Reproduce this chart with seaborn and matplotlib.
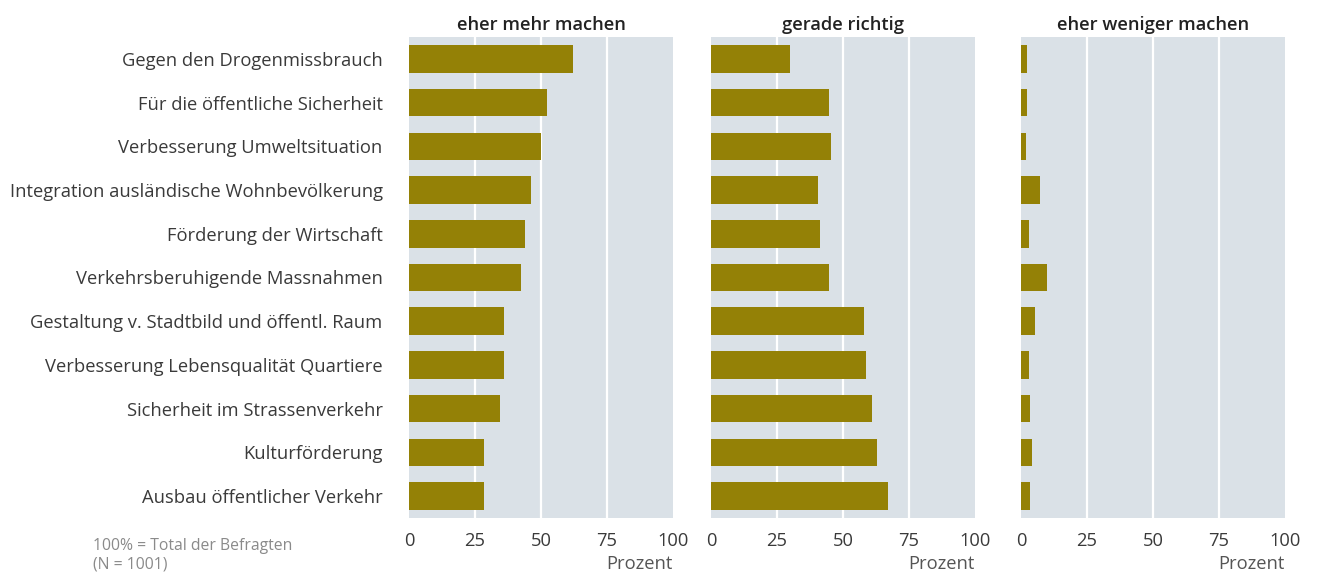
import pandas as pd
import numpy as np
import matplotlib.pyplot as plt
import seaborn as sns

# -------------------
# Data (Prozent der Befragten)
kategorien = [
    "Gegen den Drogenmissbrauch",
    "Für die öffentliche Sicherheit",
    "Verbesserung Umweltsituation",
    "Integration ausländische Wohnbevölkerung",
    "Förderung der Wirtschaft",
    "Verkehrsberuhigende Massnahmen",
    "Gestaltung v. Stadtbild und öffentl. Raum",
    "Verbesserung Lebensqualität Quartiere",
    "Sicherheit im Strassenverkehr",
    "Kulturförderung",
    "Ausbau öffentlicher Verkehr",
]
mehr = [62.1, 52.3, 50.0, 46.2, 43.9, 42.4, 36.0, 36.0, 34.5, 28.4, 28.4]
richtig = [29.9, 44.7, 45.5, 40.5, 41.3, 44.7, 58.0, 58.7, 61.0, 62.9, 67.0]
weniger = [2.3, 2.3, 1.9, 7.2, 3.0, 9.8, 5.3, 3.0, 3.4, 4.2, 3.4]
panels = ["eher mehr machen", "gerade richtig", "eher weniger machen"]
x_ticks = [0, 25, 50, 75, 100]

df = pd.DataFrame({"kategorie": kategorien * 3,
                   "wert": mehr + richtig + weniger,
                   "antwort": np.repeat(panels, len(kategorien))})

# -------------------
# Style
sns.set_theme(style="white")
plt.rcParams['font.family'] = ['Open Sans', 'DejaVu Sans']

bar_col = "#948106"
bg_col = "#dae1e7"
txt_col = "#3a3a3a"
fs = 13.2

fig, axes = plt.subplots(1, 3, figsize=(13.17, 5.74), dpi=100, sharey=True)

lefts = [409, 711, 1021]
for ax, name, left in zip(axes, panels, lefts):
    sub = df[df['antwort'] == name]
    sns.barplot(data=sub, x="wert", y="kategorie", order=kategorien,
                color=bar_col, saturation=1, width=0.63, linewidth=0, ax=ax)
    ax.set_position([left / 1317, 1 - 518 / 574, 264 / 1317, 481 / 574])
    ax.set_facecolor(bg_col)
    ax.set_xlim(0, 100)
    ax.set_ylim(10.5, -0.5)
    ax.set_xticks(x_ticks)
    ax.set_xticklabels([str(t) for t in x_ticks], fontsize=fs, color=txt_col)
    for t in x_ticks[1:-1]:
        ax.axvline(t, color="white", lw=1.6, zorder=0.5)
    ax.set_axisbelow(True)
    for s in ax.spines.values():
        s.set_visible(False)
    ax.tick_params(axis='both', length=0)
    ax.tick_params(axis='x', pad=10)
    ax.set_ylabel("")
    ax.set_xlabel("Prozent", fontsize=fs, color="#555555", loc="right", labelpad=4)
    ax.set_title(name, fontsize=fs, fontweight="semibold", color="#222222", pad=5)

axes[0].tick_params(axis='y', pad=19, labelsize=fs, labelcolor=txt_col)
for ax in axes[1:]:
    ax.tick_params(axis='y', labelleft=False)

fig.text(93 / 1317, 1 - 555 / 574, "100% = Total der Befragten\n(N = 1001)",
         fontsize=11.3, color="#8a8a8a", va="center", ha="left", linespacing=1.25)

plt.savefig("out.png", dpi=100)
